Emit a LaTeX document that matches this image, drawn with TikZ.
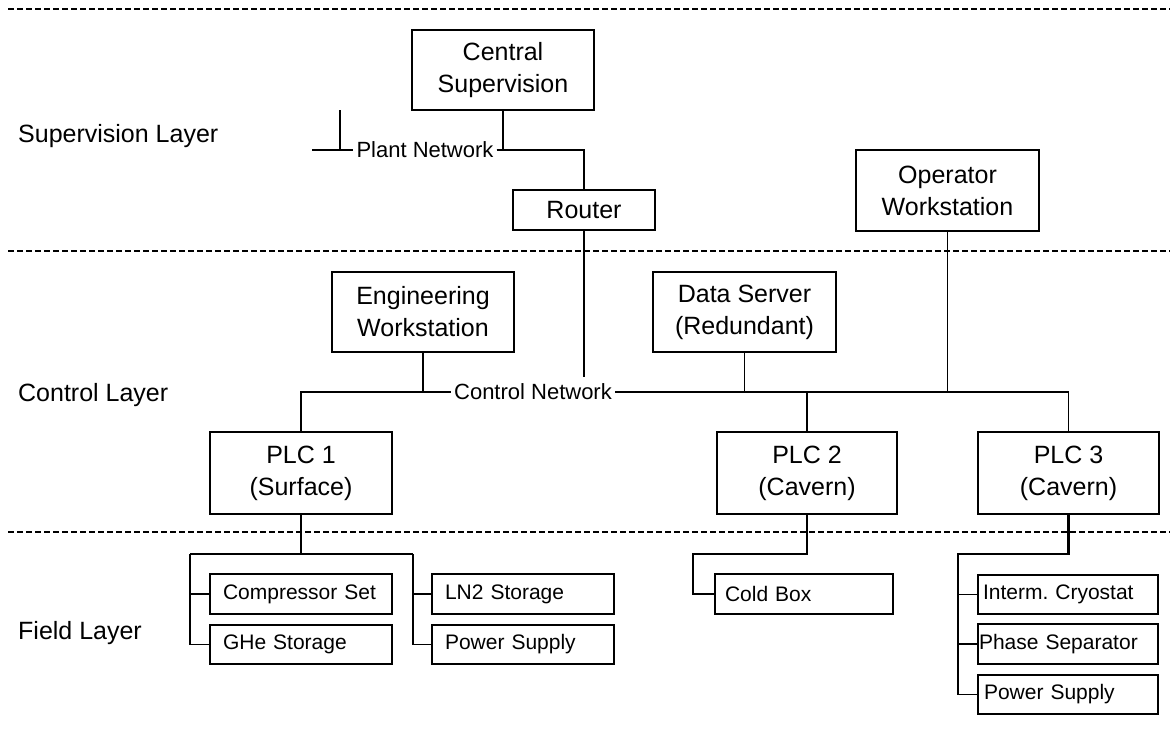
\documentclass[tikz,border=0pt]{standalone}
\usepackage{fontspec}
\setmainfont{Liberation Sans}
\begin{document}
\frenchspacing
\begin{tikzpicture}[x=1pt,y=-1pt,
  big/.style={draw, line width=1.5pt, align=center, font=\fontsize{25}{32}\selectfont, inner sep=0pt},
  small/.style={draw, line width=1.5pt, align=left, font=\fontsize{21}{25}\selectfont\frenchspacing, minimum height=40pt, inner ysep=0pt},
  wire/.style={line width=1.4pt},
  heavywire/.style={line width=2.4pt},
  midwire/.style={line width=2pt},
  sepline/.style={line width=1.2pt, dash pattern=on 6pt off 3pt},
  lay/.style={anchor=base west, font=\fontsize{25}{30}\selectfont, inner sep=0pt},
  net/.style={font=\fontsize{22}{26}\selectfont, inner xsep=3pt, inner ysep=1pt}]
\useasboundingbox (0,0) rectangle (1170,731);

% layer separators
\draw[sepline] (8,9) -- (1170,9);
\draw[sepline] (8,251) -- (1170,251);
\draw[sepline] (8,532) -- (1170,532);

% layer labels
\node[lay] (lsup) at (18,142) {Supervision Layer};
\node[lay] (lctl) at (18,401) {Control Layer};
\node[lay] (lfld) at (18,639) {Field Layer};

% main boxes
\node[big, minimum width=182pt, minimum height=80pt] (central) at (503,70) {Central\\Supervision};
\node[big, minimum width=142pt, minimum height=40pt] (router) at (584,210) {Router};
\node[big, minimum width=183pt, minimum height=81pt] (op) at (947.5,190.5) {Operator\\Workstation};
\node[big, minimum width=182pt, minimum height=80pt] (ew) at (423,312) {Engineering\\Workstation};
\node[big, minimum width=183pt, minimum height=80pt] (ds) at (744.5,312) {Data Server\\(Redundant)};
\node[big, minimum width=182pt, minimum height=82pt] (plc1) at (301,473) {PLC 1\\(Surface)};
\node[big, minimum width=180pt, minimum height=82pt] (plc2) at (807,473) {PLC 2\\(Cavern)};
\node[big, minimum width=181pt, minimum height=82pt] (plc3) at (1068.5,473) {PLC 3\\(Cavern)};

% field devices
\node[small, inner xsep=13pt, text width=156pt] (comp) at (301,594) {Compressor Set};
\node[small, inner xsep=13pt, text width=156pt] (ln2) at (523,594) {LN2 Storage};
\node[small, inner xsep=13pt, text width=156pt, minimum height=39pt] (ghe) at (301,644.5) {GHe Storage};
\node[small, inner xsep=13pt, text width=156pt, minimum height=39pt] (ps1) at (523,644.5) {Power Supply};
\node[small, inner xsep=10pt, text width=158pt] (cold) at (804,594) {Cold Box};
\node[small, inner xsep=5pt, text width=170pt, minimum height=39pt] (icr) at (1068,594.5) {Interm. Cryostat};
\node[small, inner xsep=1pt, text width=178pt] (phs) at (1068,644) {Phase Separator};
\node[small, inner xsep=6pt, text width=168pt, minimum height=39pt] (ps3) at (1068,694.5) {Power Supply};

% network labels
\node[net] (pn) at (425,150) {Plant Network};
\node[net] (cn) at (533,392) {Control Network};

% plant network
\coordinate (pnL) at (312,150);
\coordinate (pnT) at (340,110);
\coordinate (pnK) at (545,150);
\draw[wire] (pnL) -- (pn.west);
\draw[wire] (pnT) -- (pnT |- pn);
\draw[wire] (central.south) -- (central.south |- pn);
\draw[wire] (pn.east) -| (router.north);
\draw[midwire] (pn.east) -- (pnK);

% control network
\coordinate (rEnd) at (584,377);
\coordinate (cnK) at (695,392);
\coordinate (cnJ) at (372,392);
\draw[wire] (router.south) -- (rEnd);
\draw[wire] (cn.west) -| (plc1.north);
\draw[wire] (cn.east) -| (plc3.north);
\draw[midwire] (cn.east) -- (cnK);
\draw[midwire] (cn.west) -- (cnJ);
\draw[wire] (ew.south) -- (ew.south |- cn);
\draw[wire] (ds.south) -- (ds.south |- cn);
\draw[wire] (op.south) -- (op.south |- cn);
\draw[wire] (plc2.north) -- (plc2.north |- cn);

% field bus PLC 1
\coordinate (b1L) at (190,554);
\coordinate (b1R) at (413,554);
\draw[heavywire] (plc1.south) -- (plc1.south |- b1L);
\draw[wire] (b1L) -- (b1R);
\draw[wire] (ghe.west) -| (b1L);
\draw[wire] (comp.west) -- (comp.west -| b1L);
\draw[wire] (ps1.west) -| (b1R);
\draw[wire] (ln2.west) -- (ln2.west -| b1R);

% field bus PLC 2
\coordinate (b2) at (693,554);
\draw[wire] (cold.west) -| (b2) -| (plc2.south);

% field bus PLC 3
\coordinate (b3) at (958,554);
\draw[heavywire] (plc3.south) |- (b3) -- (b3 |- icr.west);
\draw[wire] (ps3.west) -| (b3);
\draw[wire] (icr.west) -- (icr.west -| b3);
\draw[wire] (phs.west) -- (phs.west -| b3);
\end{tikzpicture}
\end{document}
